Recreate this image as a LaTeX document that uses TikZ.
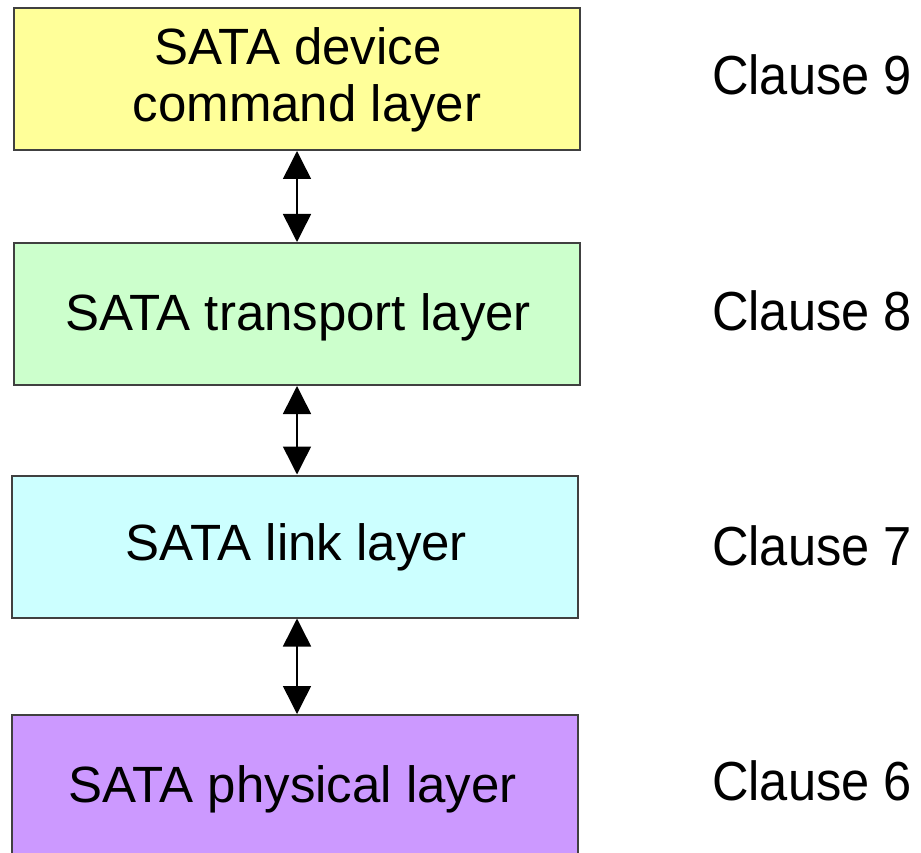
\documentclass[tikz,border=0pt]{standalone}
\usepackage{fontspec}
\setmainfont{Liberation Sans}
\newfontfamily\clausefont{Liberation Sans}[FakeStretch=0.92]
\usetikzlibrary{arrows.meta}
\begin{document}
\begin{tikzpicture}[x=1pt,y=-1pt,
  layerbox/.style={draw=black!75,line width=2pt,minimum width=566pt,minimum height=142pt,inner sep=0pt},
  layertext/.style={font=\fontsize{51pt}{57pt}\selectfont,anchor=base,inner sep=0pt,align=center},
  clause/.style={font=\clausefont\fontsize{55pt}{60pt}\selectfont,anchor=base,inner sep=0pt},
  link/.style={line width=1.5pt,{Triangle[length=28pt,width=28pt]}-{Triangle[length=28pt,width=28pt]}}]
\useasboundingbox (0,0) rectangle (921,853);
\node[layerbox,fill={rgb,255:red,255;green,255;blue,153}] (cmd) at (297,79) {};
\node[layerbox,fill={rgb,255:red,204;green,255;blue,204}] (trn) at (297,314) {};
\node[layerbox,fill={rgb,255:red,204;green,255;blue,255}] (lnk) at (295,546.5) {};
\node[layerbox,fill={rgb,255:red,204;green,153;blue,255}] (phy) at (295,786) {};
\node[layertext] (cmdt1) at (298,65) {SATA device};
\node[layertext] (cmdt2) at (307,122) {command layer};
\node[layertext] (trnt) at (298,330) {SATA transport layer};
\node[layertext] (lnkt) at (296.5,560) {SATA link layer};
\node[layertext] (phyt) at (292.5,802) {SATA physical layer};
\draw[link] (cmd.south -| 297,0) -- (trn.north -| 297,0);
\draw[link] (trn.south -| 297,0) -- (lnk.north -| 297,0);
\draw[link] (lnk.south -| 297,0) -- (phy.north -| 297,0);
\node[clause] (c9) at (812,95) {Clause 9};
\node[clause] (c8) at (812,330) {Clause 8};
\node[clause] (c7) at (812,565) {Clause 7};
\node[clause] (c6) at (812,800) {Clause 6};
\end{tikzpicture}
\end{document}
